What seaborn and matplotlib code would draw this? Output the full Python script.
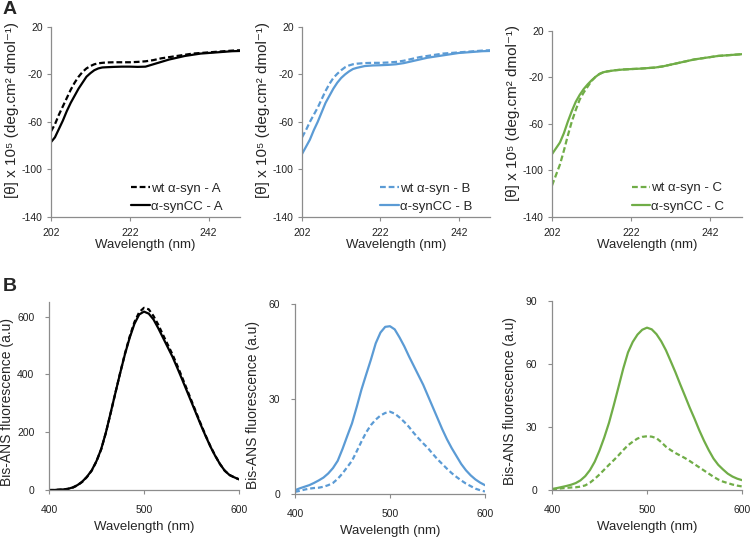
import matplotlib
matplotlib.use("Agg")
import matplotlib.pyplot as plt
import seaborn as sns

sns.set_style("ticks")
plt.rcParams['font.family'] = ['Liberation Sans', 'DejaVu Sans']
plt.rcParams['axes.unicode_minus'] = False

# ---- CD spectra (panel A) ----
cd_nm = [202, 203, 204, 205, 206, 207, 208, 209, 210, 211, 212, 213, 214, 215, 216,
         218, 220, 222, 224, 226, 228, 230, 232, 234, 236, 238, 240, 242, 244, 246, 248, 250]

cd_wt_A = [-68, -62, -54, -47, -40, -33, -27, -22, -18, -15, -13, -11.5, -10.7, -10.3, -10,
           -9.8, -9.8, -9.8, -9.5, -9, -8, -6.5, -5.5, -4.5, -3.5, -2.5, -2, -1.5, -1, -0.5, 0, 0.3]
cd_cc_A = [-77, -73, -66, -59, -51, -44, -38, -32, -27, -22, -19, -16.5, -15, -14.2, -14,
           -13.7, -13.5, -13.5, -13.7, -13.5, -11.5, -9.5, -7.5, -6, -4.5, -3.5, -2.5, -2, -1.5, -1, -0.5, -0.3]

cd_wt_B = [-73, -67, -60, -54, -48, -41, -34, -28, -23, -19.5, -16.5, -14, -12.5, -11.5, -11,
           -10.5, -10.3, -10.3, -10, -9.5, -8.5, -7, -5.5, -4.5, -3.5, -2.5, -2, -1.5, -1, -0.5, 0, 0.3]
cd_cc_B = [-87, -81, -75, -67, -60, -52, -44, -38, -32, -27, -23, -20, -17.5, -15.5, -14.5,
           -13, -12.5, -12.3, -12, -11.5, -10.5, -9, -7.5, -6, -5, -4, -3, -2, -1.5, -1, -0.5, -0.3]

cd_wt_C = [-113, -104, -95, -83, -70, -58, -48, -39, -33, -28, -23, -19.5, -17, -15.5, -14.8,
           -13.8, -13.2, -12.8, -12.5, -12, -11.5, -10.5, -9, -7.5, -6, -4.5, -3.5, -2.5, -1.5, -1, -0.5, 0]
cd_cc_C = [-86, -81, -76, -68, -58, -49, -41, -35, -30, -26, -22.5, -19.5, -17, -15.5, -14.8,
           -13.8, -13.2, -12.8, -12.5, -12, -11.5, -10.5, -9, -7.5, -6, -4.5, -3.5, -2.5, -1.5, -1, -0.5, 0]

# ---- Bis-ANS fluorescence (panel B) ----
fl_nm = [400, 405, 410, 415, 420, 425, 430, 435, 440, 445, 450, 455, 460, 465, 470, 475, 480,
         485, 490, 495, 500, 505, 510, 515, 520, 525, 530, 535, 540, 545, 550, 555, 560, 565,
         570, 575, 580, 585, 590, 595, 600]

fl_wt_A = [0, 0, 1, 2, 4, 8, 16, 28, 45, 67, 99, 141, 199, 267, 337, 406, 472, 531, 581, 615,
           630, 625, 602, 572, 537, 503, 469, 431, 391, 350, 309, 268, 227, 188, 151, 119, 90,
           67, 52, 44, 37]
fl_cc_A = [0, 0, 1, 2, 4, 9, 17, 29, 46, 68, 100, 142, 200, 268, 337, 405, 470, 527, 575, 607,
           617, 610, 590, 560, 527, 494, 461, 423, 384, 344, 304, 264, 224, 186, 150, 118, 90,
           67, 52, 44, 37]

fl_wt_B = [0.7, 1, 1.4, 1.7, 1.9, 2, 2.3, 2.8, 3.5, 4.8, 6.5, 8.5, 10.5, 13.5, 16.6, 19.5, 21.8,
           23.5, 24.8, 25.6, 26, 25.4, 24.2, 22.8, 21.2, 19.3, 17.6, 16, 14.5, 12.7, 11, 9.5, 8,
           6.6, 5.4, 4.3, 3.3, 2.5, 1.7, 1.2, 0.8]
fl_cc_B = [1.2, 1.8, 2.3, 2.8, 3.5, 4.3, 5.2, 6.5, 8.2, 10.5, 14.2, 18.3, 22.3, 27.5, 33, 37.8,
           42.5, 47.6, 51, 52.8, 53, 52, 49.5, 46.7, 43.5, 40.5, 37.5, 34.5, 31, 27.5, 24, 20.5,
           17.3, 14.5, 12, 9.5, 7.5, 5.9, 4.6, 3.6, 2.8]

fl_wt_C = [0.3, 0.5, 0.8, 1, 1.2, 1.3, 1.6, 2.2, 3.5, 5.3, 7.4, 9.7, 12, 14.2, 16.5, 19, 21.3,
           23, 24.5, 25.3, 25.6, 25.4, 24.7, 22.8, 20.6, 19, 17.6, 16.4, 15.2, 13.8, 12.3, 10.8,
           9.3, 7.8, 6.3, 5, 4, 3.3, 2.6, 2.1, 1.7]
fl_cc_C = [0.5, 0.9, 1.4, 1.9, 2.5, 3.3, 4.6, 6.6, 9.5, 13.5, 18.8, 25, 32, 40.3, 49, 57.8, 65.5,
           70.5, 74, 76.3, 77.3, 76.5, 74.2, 70.8, 66.5, 61.3, 56, 50.3, 44.8, 39.2, 34, 28.5,
           23.5, 19, 15, 12, 9.8, 7.8, 6.4, 5.4, 4.7]

colors = ["black", "#5B9BD5", "#70AD47"]
names = ["A", "B", "C"]
cd_sets = [(cd_wt_A, cd_cc_A), (cd_wt_B, cd_cc_B), (cd_wt_C, cd_cc_C)]
fl_sets = [(fl_wt_A, fl_cc_A), (fl_wt_B, fl_cc_B), (fl_wt_C, fl_cc_C)]
fl_ylims = [(0, 650), (0, 60), (0, 90)]
fl_yticks = [[0, 200, 400, 600], [0, 30, 60], [0, 30, 60, 90]]

top_pos = [[0.068, 0.596, 0.252, 0.354],
           [0.4027, 0.596, 0.2507, 0.354],
           [0.736, 0.596, 0.2533, 0.3464]]
bot_pos = [[0.0653, 0.0875, 0.2533, 0.350],
           [0.3933, 0.080, 0.2533, 0.3538],
           [0.736, 0.0875, 0.2533, 0.352]]

fig = plt.figure(figsize=(7.5, 5.37), dpi=100)


def style_axes(ax, xpad, ypad):
    sns.despine(ax=ax)
    for side in ["left", "bottom"]:
        ax.spines[side].set_color("#8c8c8c")
        ax.spines[side].set_linewidth(0.9)
    ax.tick_params(axis="both", direction="out", length=3, width=0.8,
                   color="#8c8c8c", labelsize=7.5, labelcolor="#222222")
    ax.tick_params(axis="x", pad=xpad)
    ax.tick_params(axis="y", pad=ypad)


# CD row
for i in range(3):
    ax = fig.add_axes(top_pos[i])
    wt, cc = cd_sets[i]
    sns.lineplot(x=cd_nm, y=wt, ax=ax, color=colors[i], lw=1.6,
                 linestyle=(0, (2.6, 1.3)), label=f"wt α-syn - {names[i]}")
    sns.lineplot(x=cd_nm, y=cc, ax=ax, color=colors[i], lw=1.6,
                 label=f"α-synCC - {names[i]}")
    ax.set_xlim(202, 250)
    ax.set_ylim(-140, 20)
    ax.set_xticks([202, 222, 242])
    ax.set_yticks([20, -20, -60, -100, -140])
    ax.set_xlabel("Wavelength (nm)", fontsize=9.5, labelpad=0.5)
    ax.set_ylabel("[θ] x 10⁵ (deg.cm² dmol⁻¹)", fontsize=11)
    ax.yaxis.set_label_coords(-0.17, 0.56)
    style_axes(ax, xpad=5, ypad=3)
    ax.legend(loc="lower right", bbox_to_anchor=(0.97, -0.04), frameon=False,
              fontsize=9.5, handlelength=1.4, handletextpad=0.1, labelspacing=0.45)

# fluorescence row
for i in range(3):
    ax = fig.add_axes(bot_pos[i])
    wt, cc = fl_sets[i]
    sns.lineplot(x=fl_nm, y=wt, ax=ax, color=colors[i], lw=1.6,
                 linestyle=(0, (2.2, 1.3)))
    sns.lineplot(x=fl_nm, y=cc, ax=ax, color=colors[i], lw=1.6)
    ax.set_xlim(400, 600)
    ax.set_ylim(*fl_ylims[i])
    ax.set_xticks([400, 500, 600])
    ax.set_yticks(fl_yticks[i])
    ax.set_xlabel("Wavelength (nm)", fontsize=9.5, labelpad=4)
    ax.set_ylabel("Bis-ANS fluorescence (a.u)", fontsize=10)
    ax.yaxis.set_label_coords(-0.185, 0.47)
    style_axes(ax, xpad=8, ypad=7.5)

fig.text(0.004, 0.982, "A", fontsize=14, fontweight="bold", va="center")
fig.text(0.004, 0.467, "B", fontsize=14, fontweight="bold", va="center")

fig.savefig("out.png", dpi=100)
